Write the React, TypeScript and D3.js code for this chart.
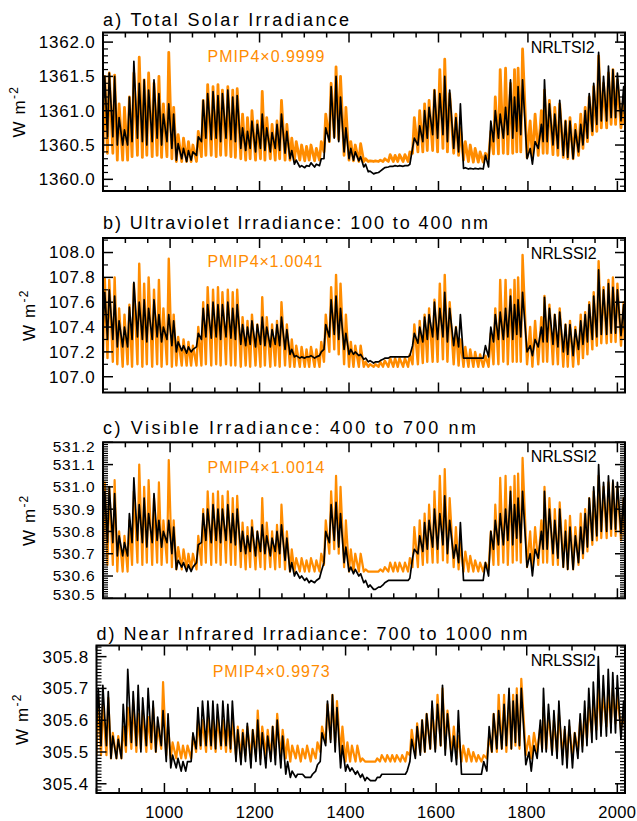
import React from "react";
import * as d3 from "d3";

const FONT = "'Liberation Sans', Arial, Helvetica, sans-serif";
const ORANGE = "#ff8c00";

// Solar-cycle minimum years (last entry = end of record) and maximum years
const cycleMinYears = [
  850, 860, 872, 882, 894, 905, 915, 927, 938, 948,
  960, 971, 981, 993, 1004, 1014, 1026, 1037, 1047, 1059,
  1070, 1080, 1092, 1103, 1113, 1125, 1136, 1146, 1158, 1169,
  1179, 1191, 1202, 1212, 1224, 1235, 1245, 1257, 1268, 1278,
  1290, 1301, 1311, 1323, 1334, 1344, 1356, 1367, 1377, 1389,
  1400, 1410, 1422, 1433, 1443, 1455, 1466, 1476, 1488, 1499,
  1509, 1521, 1532, 1542, 1554, 1565, 1575, 1587, 1598, 1610,
  1620, 1634, 1645, 1656, 1667, 1678, 1689, 1700, 1712, 1723,
  1734, 1745, 1755, 1766, 1775, 1784, 1798, 1810, 1823, 1834,
  1843, 1856, 1867, 1879, 1889, 1901, 1913, 1923, 1933, 1944,
  1954, 1964, 1976, 1986, 1996, 2008, 2016,
];
const cycleMaxYears = [
  854, 864, 876, 886, 898, 909, 919, 931, 942, 952,
  964, 975, 985, 997, 1008, 1018, 1030, 1041, 1051, 1063,
  1074, 1084, 1096, 1107, 1117, 1129, 1140, 1150, 1162, 1173,
  1183, 1195, 1206, 1216, 1228, 1239, 1249, 1261, 1272, 1282,
  1294, 1305, 1315, 1327, 1338, 1348, 1360, 1371, 1381, 1393,
  1404, 1414, 1426, 1437, 1447, 1459, 1470, 1480, 1492, 1503,
  1513, 1525, 1536, 1546, 1558, 1569, 1579, 1591, 1603, 1614,
  1625, 1639, 1649, 1660, 1671, 1682, 1693, 1705, 1717, 1727,
  1738, 1750, 1761, 1770, 1778, 1788, 1805, 1816, 1830, 1837,
  1848, 1860, 1871, 1884, 1894, 1906, 1918, 1928, 1937, 1947,
  1958, 1969, 1980, 1990, 2000, 2014,
];

// ---------- a) TSI ----------
const tsiPmipPeaks = [
  1361.50, 1361.55, 1361.52, 1361.10, 1361.05, 1361.20, 1361.55, 1361.78, 1361.45, 1361.55,
  1361.40, 1361.50, 1361.10, 1361.85, 1361.05, 1360.65, 1360.60, 1360.55, 1360.50, 1360.70,
  1361.15, 1361.38, 1361.35, 1361.38, 1361.30, 1361.35, 1361.30, 1361.32, 1360.95, 1360.90,
  1361.00, 1360.85, 1361.28, 1360.90, 1360.80, 1360.85, 1361.15, 1360.80, 1360.60, 1360.55,
  1360.50, 1360.48, 1360.50, 1360.45, 1360.55, 1360.95, 1361.40, 1361.64, 1361.50, 1361.05,
  1360.55, 1360.50, 1360.52, 1360.30, 1360.27, 1360.27, 1360.28, 1360.30, 1360.36, 1360.35,
  1360.36, 1360.36, 1360.40, 1360.90, 1361.00, 1361.10, 1361.15, 1361.30, 1361.60, 1361.75,
  1361.25, 1360.95, 1360.75, 1360.55, 1360.50, 1360.45, 1360.40, 1360.38, 1360.70, 1361.20,
  1361.60, 1361.62, 1361.40, 1361.60, 1361.62, 1361.90, 1360.85, 1360.95, 1361.00, 1361.30,
  1361.15, 1361.05, 1361.10, 1360.85, 1360.90, 1360.80, 1360.95, 1361.05, 1361.20, 1361.35,
  1361.80, 1361.40, 1361.55, 1361.60, 1361.45, 1361.20,
];
const tsiPmipTroughs = [
  1360.38, 1360.38, 1360.38, 1360.28, 1360.28, 1360.28, 1360.33, 1360.35, 1360.32, 1360.35,
  1360.33, 1360.35, 1360.32, 1360.33, 1360.30, 1360.26, 1360.26, 1360.26, 1360.26, 1360.26,
  1360.33, 1360.35, 1360.35, 1360.33, 1360.35, 1360.35, 1360.33, 1360.32, 1360.30, 1360.28,
  1360.30, 1360.28, 1360.30, 1360.28, 1360.30, 1360.28, 1360.30, 1360.28, 1360.28, 1360.27,
  1360.28, 1360.27, 1360.28, 1360.27, 1360.28, 1360.40, 1360.55, 1360.62, 1360.58, 1360.35,
  1360.28, 1360.27, 1360.26, 1360.26, 1360.26, 1360.26, 1360.26, 1360.26, 1360.26, 1360.26,
  1360.26, 1360.26, 1360.26, 1360.38, 1360.40, 1360.40, 1360.42, 1360.42, 1360.40, 1360.45,
  1360.40, 1360.38, 1360.35, 1360.28, 1360.26, 1360.25, 1360.25, 1360.25, 1360.30, 1360.37,
  1360.37, 1360.38, 1360.37, 1360.38, 1360.40, 1360.40, 1360.32, 1360.30, 1360.35, 1360.38,
  1360.38, 1360.36, 1360.35, 1360.32, 1360.30, 1360.30, 1360.35, 1360.45, 1360.55, 1360.65,
  1360.70, 1360.75, 1360.75, 1360.80, 1360.80, 1360.75, 1360.80,
];
const tsiNrlPeaks = [
  1361.50, 1361.55, 1361.50, 1360.90, 1360.72, 1361.20, 1361.72, 1361.40, 1361.45, 1361.30,
  1361.45, 1361.25, 1360.95, 1361.10, 1360.95, 1360.52, 1360.45, 1360.42, 1360.40, 1360.62,
  1361.15, 1361.25, 1361.28, 1361.22, 1361.25, 1361.30, 1361.20, 1361.22, 1360.75, 1360.70,
  1360.85, 1360.80, 1360.95, 1360.75, 1360.68, 1360.80, 1360.95, 1360.70, 1360.42, 1360.28,
  1360.20, 1360.20, 1360.24, 1360.22, 1360.30, 1360.75, 1361.35, 1361.50, 1361.20, 1360.75,
  1360.45, 1360.40, 1360.33, 1360.22, 1360.12, 1360.09, 1360.12, 1360.17, 1360.19, 1360.20,
  1360.20, 1360.20, 1360.22, 1360.60, 1360.78, 1361.00, 1361.05, 1361.30, 1361.25, 1361.50,
  1361.30, 1360.90, 1361.10, 1360.17, 1360.16, 1360.16, 1360.16, 1360.35, 1360.85, 1361.00,
  1360.95, 1361.05, 1361.45, 1361.20, 1361.35, 1361.45, 1360.45, 1360.55, 1360.80, 1361.45,
  1361.10, 1360.95, 1361.15, 1360.85, 1360.85, 1360.72, 1360.80, 1361.00, 1361.25, 1361.40,
  1361.85, 1361.50, 1361.65, 1361.60, 1361.55, 1361.35,
];
const tsiNrlTroughs = [
  1360.93, 1360.62, 1360.62, 1360.50, 1360.50, 1360.50, 1360.55, 1360.60, 1360.55, 1360.50,
  1360.55, 1360.60, 1360.50, 1360.55, 1360.45, 1360.28, 1360.30, 1360.26, 1360.28, 1360.35,
  1360.55, 1360.60, 1360.58, 1360.60, 1360.55, 1360.60, 1360.58, 1360.55, 1360.45, 1360.42,
  1360.45, 1360.40, 1360.45, 1360.42, 1360.40, 1360.45, 1360.42, 1360.38, 1360.30, 1360.22,
  1360.18, 1360.17, 1360.19, 1360.18, 1360.20, 1360.30, 1360.55, 1360.60, 1360.55, 1360.40,
  1360.30, 1360.28, 1360.27, 1360.18, 1360.11, 1360.08, 1360.10, 1360.15, 1360.18, 1360.19,
  1360.19, 1360.19, 1360.20, 1360.45, 1360.50, 1360.55, 1360.60, 1360.65, 1360.60, 1360.65,
  1360.55, 1360.45, 1360.40, 1360.16, 1360.15, 1360.15, 1360.15, 1360.15, 1360.18, 1360.55,
  1360.60, 1360.60, 1360.65, 1360.60, 1360.70, 1360.65, 1360.30, 1360.22, 1360.45, 1360.55,
  1360.55, 1360.50, 1360.45, 1360.35, 1360.32, 1360.30, 1360.40, 1360.50, 1360.60, 1360.70,
  1360.80, 1360.85, 1360.85, 1360.90, 1360.90, 1360.85, 1360.95,
];

// ---------- b) UV ----------
const uvPmipPeaks = [
  107.79, 107.78, 107.80, 107.55, 107.50, 107.58, 107.75, 107.91, 107.75, 107.80,
  107.70, 107.78, 107.55, 107.95, 107.50, 107.32, 107.30, 107.28, 107.25, 107.40,
  107.60, 107.72, 107.70, 107.72, 107.68, 107.70, 107.68, 107.70, 107.48, 107.45,
  107.50, 107.42, 107.64, 107.48, 107.42, 107.45, 107.60, 107.42, 107.30, 107.25,
  107.24, 107.22, 107.24, 107.22, 107.28, 107.50, 107.72, 107.82, 107.75, 107.50,
  107.28, 107.25, 107.25, 107.12, 107.10, 107.10, 107.12, 107.13, 107.15, 107.15,
  107.15, 107.15, 107.18, 107.42, 107.45, 107.50, 107.55, 107.62, 107.75, 107.82,
  107.60, 107.40, 107.30, 107.24, 107.22, 107.20, 107.18, 107.17, 107.35, 107.55,
  107.78, 107.78, 107.70, 107.78, 107.80, 107.98, 107.40, 107.45, 107.48, 107.65,
  107.58, 107.50, 107.55, 107.42, 107.45, 107.40, 107.50, 107.52, 107.60, 107.68,
  107.93, 107.72, 107.78, 107.80, 107.75, 107.60,
];
const uvPmipTroughs = [
  107.15, 107.15, 107.12, 107.10, 107.08, 107.10, 107.08, 107.10, 107.08, 107.10,
  107.08, 107.10, 107.08, 107.10, 107.08, 107.09, 107.09, 107.09, 107.09, 107.09,
  107.09, 107.10, 107.09, 107.10, 107.09, 107.10, 107.09, 107.09, 107.08, 107.09,
  107.08, 107.09, 107.08, 107.09, 107.08, 107.09, 107.08, 107.09, 107.08, 107.08,
  107.08, 107.08, 107.08, 107.08, 107.08, 107.12, 107.20, 107.22, 107.18, 107.10,
  107.08, 107.08, 107.08, 107.08, 107.08, 107.08, 107.08, 107.08, 107.08, 107.08,
  107.08, 107.08, 107.08, 107.10, 107.10, 107.11, 107.12, 107.12, 107.12, 107.14,
  107.12, 107.10, 107.09, 107.08, 107.08, 107.08, 107.08, 107.08, 107.08, 107.10,
  107.10, 107.12, 107.10, 107.12, 107.12, 107.12, 107.10, 107.08, 107.10, 107.12,
  107.12, 107.10, 107.10, 107.08, 107.08, 107.08, 107.10, 107.15, 107.18, 107.22,
  107.25, 107.27, 107.27, 107.28, 107.28, 107.25, 107.30,
];
const uvNrlPeaks = [
  107.68, 107.70, 107.65, 107.45, 107.40, 107.56, 107.76, 107.60, 107.62, 107.55,
  107.62, 107.50, 107.40, 107.50, 107.45, 107.28, 107.25, 107.24, 107.22, 107.35,
  107.55, 107.58, 107.60, 107.58, 107.58, 107.60, 107.55, 107.58, 107.42, 107.40,
  107.45, 107.42, 107.48, 107.40, 107.38, 107.42, 107.48, 107.38, 107.22, 107.17,
  107.16, 107.16, 107.17, 107.16, 107.20, 107.42, 107.62, 107.65, 107.55, 107.35,
  107.22, 107.20, 107.18, 107.15, 107.13, 107.12, 107.13, 107.15, 107.16, 107.16,
  107.16, 107.16, 107.17, 107.35, 107.40, 107.48, 107.50, 107.60, 107.55, 107.68,
  107.55, 107.40, 107.50, 107.15, 107.15, 107.15, 107.15, 107.25, 107.40, 107.50,
  107.52, 107.55, 107.65, 107.58, 107.62, 107.68, 107.25, 107.30, 107.40, 107.64,
  107.55, 107.50, 107.52, 107.42, 107.42, 107.38, 107.45, 107.50, 107.58, 107.65,
  107.86, 107.70, 107.75, 107.72, 107.70, 107.58,
];
const uvNrlTroughs = [
  107.40, 107.30, 107.30, 107.24, 107.24, 107.24, 107.30, 107.32, 107.30, 107.28,
  107.30, 107.32, 107.28, 107.30, 107.25, 107.20, 107.21, 107.19, 107.20, 107.24,
  107.30, 107.32, 107.31, 107.32, 107.30, 107.32, 107.31, 107.30, 107.26, 107.25,
  107.26, 107.24, 107.26, 107.25, 107.24, 107.26, 107.25, 107.22, 107.18, 107.16,
  107.15, 107.15, 107.16, 107.15, 107.17, 107.22, 107.32, 107.34, 107.30, 107.22,
  107.18, 107.18, 107.17, 107.14, 107.12, 107.11, 107.12, 107.14, 107.15, 107.16,
  107.16, 107.16, 107.16, 107.25, 107.27, 107.28, 107.30, 107.32, 107.30, 107.32,
  107.28, 107.25, 107.24, 107.15, 107.15, 107.15, 107.15, 107.15, 107.16, 107.28,
  107.30, 107.30, 107.32, 107.30, 107.34, 107.32, 107.20, 107.17, 107.24, 107.28,
  107.28, 107.26, 107.24, 107.20, 107.18, 107.17, 107.22, 107.26, 107.28, 107.30,
  107.32, 107.34, 107.34, 107.35, 107.35, 107.33, 107.38,
];

// ---------- c) Visible ----------
const visPmipPeaks = [
  531.02, 531.00, 531.03, 530.80, 530.78, 530.85, 530.98, 531.10, 531.00, 531.03,
  530.95, 531.02, 530.85, 531.12, 530.85, 530.73, 530.72, 530.70, 530.70, 530.78,
  530.90, 530.98, 530.97, 530.98, 530.96, 530.98, 530.95, 530.96, 530.84, 530.82,
  530.85, 530.80, 530.95, 530.84, 530.80, 530.83, 530.92, 530.80, 530.72, 530.68,
  530.68, 530.67, 530.68, 530.67, 530.70, 530.85, 530.98, 531.05, 531.00, 530.85,
  530.72, 530.70, 530.70, 530.63, 530.62, 530.62, 530.63, 530.64, 530.66, 530.66,
  530.66, 530.66, 530.68, 530.82, 530.85, 530.88, 530.92, 530.98, 531.05, 531.08,
  530.95, 530.82, 530.75, 530.71, 530.69, 530.67, 530.66, 530.66, 530.80, 530.92,
  531.04, 531.05, 531.00, 531.05, 531.06, 531.13, 530.80, 530.82, 530.85, 531.00,
  530.95, 530.90, 530.93, 530.85, 530.87, 530.82, 530.88, 530.90, 530.95, 530.98,
  531.05, 531.00, 531.02, 531.02, 531.00, 530.95,
];
const visPmipTroughs = [
  530.65, 530.65, 530.65, 530.62, 530.62, 530.62, 530.65, 530.66, 530.65, 530.66,
  530.65, 530.66, 530.65, 530.66, 530.64, 530.63, 530.63, 530.63, 530.63, 530.63,
  530.65, 530.66, 530.65, 530.66, 530.65, 530.66, 530.65, 530.65, 530.64, 530.63,
  530.64, 530.63, 530.64, 530.63, 530.64, 530.63, 530.64, 530.63, 530.62, 530.62,
  530.62, 530.62, 530.62, 530.62, 530.62, 530.65, 530.70, 530.72, 530.70, 530.64,
  530.62, 530.62, 530.62, 530.62, 530.62, 530.62, 530.62, 530.62, 530.62, 530.62,
  530.62, 530.62, 530.62, 530.64, 530.64, 530.65, 530.66, 530.66, 530.66, 530.67,
  530.66, 530.64, 530.63, 530.62, 530.62, 530.62, 530.62, 530.62, 530.63, 530.65,
  530.65, 530.66, 530.65, 530.66, 530.67, 530.66, 530.64, 530.63, 530.65, 530.66,
  530.66, 530.65, 530.65, 530.64, 530.63, 530.63, 530.65, 530.68, 530.71, 530.74,
  530.76, 530.77, 530.77, 530.78, 530.78, 530.76, 530.78,
];
const visNrlPeaks = [
  530.98, 531.00, 530.97, 530.78, 530.75, 530.88, 531.04, 530.92, 530.95, 530.88,
  530.97, 530.85, 530.80, 530.85, 530.82, 530.67, 530.66, 530.65, 530.64, 530.74,
  530.88, 530.90, 530.92, 530.90, 530.90, 530.92, 530.88, 530.90, 530.80, 530.78,
  530.82, 530.80, 530.83, 530.78, 530.77, 530.80, 530.83, 530.77, 530.66, 530.62,
  530.60, 530.59, 530.58, 530.58, 530.62, 530.80, 530.92, 530.93, 530.88, 530.73,
  530.64, 530.63, 530.61, 530.58, 530.56, 530.54, 530.55, 530.57, 530.58, 530.58,
  530.58, 530.58, 530.59, 530.72, 530.78, 530.84, 530.85, 530.90, 530.88, 530.96,
  530.85, 530.74, 530.84, 530.58, 530.58, 530.58, 530.58, 530.66, 530.80, 530.85,
  530.88, 530.90, 530.98, 530.92, 530.95, 530.98, 530.70, 530.72, 530.80, 530.98,
  530.90, 530.85, 530.90, 530.80, 530.82, 530.78, 530.82, 530.88, 530.95, 531.00,
  531.10, 531.02, 531.05, 531.03, 531.02, 530.95,
];
const visNrlTroughs = [
  530.82, 530.75, 530.75, 530.69, 530.69, 530.69, 530.75, 530.76, 530.75, 530.73,
  530.75, 530.76, 530.73, 530.75, 530.70, 530.63, 530.64, 530.62, 530.62, 530.66,
  530.75, 530.76, 530.75, 530.76, 530.75, 530.76, 530.75, 530.74, 530.71, 530.70,
  530.71, 530.69, 530.71, 530.70, 530.69, 530.71, 530.70, 530.67, 530.62, 530.60,
  530.59, 530.58, 530.57, 530.57, 530.59, 530.66, 530.75, 530.76, 530.73, 530.66,
  530.62, 530.61, 530.60, 530.57, 530.55, 530.54, 530.55, 530.56, 530.58, 530.58,
  530.58, 530.58, 530.58, 530.68, 530.70, 530.71, 530.72, 530.73, 530.72, 530.74,
  530.70, 530.68, 530.66, 530.58, 530.58, 530.58, 530.58, 530.58, 530.60, 530.72,
  530.74, 530.74, 530.76, 530.74, 530.77, 530.75, 530.64, 530.60, 530.68, 530.72,
  530.72, 530.70, 530.68, 530.64, 530.63, 530.63, 530.66, 530.70, 530.73, 530.76,
  530.78, 530.80, 530.80, 530.81, 530.81, 530.79, 530.82,
];

// ---------- d) Near infrared ----------
const nirPmipPeaks = [
  305.67, 305.65, 305.67, 305.56, 305.55, 305.58, 305.64, 305.66, 305.62, 305.63,
  305.61, 305.64, 305.58, 305.72, 305.58, 305.53, 305.53, 305.52, 305.52, 305.55,
  305.60, 305.60, 305.61, 305.60, 305.61, 305.60, 305.60, 305.60, 305.58, 305.57,
  305.58, 305.57, 305.63, 305.58, 305.57, 305.58, 305.62, 305.57, 305.54, 305.52,
  305.52, 305.51, 305.52, 305.51, 305.53, 305.58, 305.65, 305.68, 305.66, 305.58,
  305.53, 305.52, 305.52, 305.48, 305.47, 305.47, 305.48, 305.49, 305.49, 305.49,
  305.49, 305.49, 305.50, 305.57, 305.59, 305.60, 305.62, 305.64, 305.68, 305.70,
  305.63, 305.58, 305.55, 305.52, 305.51, 305.50, 305.49, 305.49, 305.55, 305.62,
  305.68, 305.68, 305.66, 305.68, 305.70, 305.73, 305.55, 305.56, 305.58, 305.64,
  305.62, 305.60, 305.62, 305.57, 305.58, 305.56, 305.60, 305.62, 305.64, 305.66,
  305.70, 305.68, 305.69, 305.70, 305.68, 305.62,
];
const nirPmipTroughs = [
  305.49, 305.49, 305.49, 305.48, 305.48, 305.48, 305.50, 305.51, 305.50, 305.51,
  305.50, 305.51, 305.50, 305.51, 305.49, 305.48, 305.48, 305.48, 305.48, 305.48,
  305.50, 305.51, 305.50, 305.51, 305.50, 305.51, 305.50, 305.50, 305.49, 305.48,
  305.49, 305.48, 305.49, 305.48, 305.49, 305.48, 305.49, 305.48, 305.48, 305.47,
  305.48, 305.47, 305.48, 305.47, 305.48, 305.50, 305.53, 305.54, 305.53, 305.49,
  305.47, 305.47, 305.47, 305.47, 305.47, 305.47, 305.47, 305.47, 305.47, 305.47,
  305.47, 305.47, 305.47, 305.49, 305.49, 305.50, 305.50, 305.51, 305.51, 305.52,
  305.51, 305.49, 305.48, 305.47, 305.47, 305.47, 305.47, 305.47, 305.48, 305.50,
  305.50, 305.51, 305.50, 305.51, 305.52, 305.51, 305.49, 305.48, 305.50, 305.51,
  305.51, 305.50, 305.50, 305.49, 305.48, 305.48, 305.50, 305.52, 305.54, 305.56,
  305.57, 305.58, 305.58, 305.59, 305.59, 305.57, 305.59,
];
const nirNrlPeaks = [
  305.70, 305.71, 305.69, 305.55, 305.54, 305.65, 305.76, 305.69, 305.71, 305.67,
  305.70, 305.66, 305.61, 305.63, 305.62, 305.49, 305.48, 305.47, 305.47, 305.56,
  305.64, 305.66, 305.66, 305.66, 305.65, 305.66, 305.65, 305.66, 305.57, 305.56,
  305.59, 305.57, 305.60, 305.56, 305.55, 305.58, 305.60, 305.55, 305.47, 305.44,
  305.43, 305.43, 305.42, 305.43, 305.46, 305.56, 305.66, 305.68, 305.64, 305.52,
  305.46, 305.45, 305.44, 305.43, 305.42, 305.41, 305.42, 305.43, 305.43, 305.43,
  305.43, 305.43, 305.44, 305.54, 305.58, 305.60, 305.62, 305.66, 305.65, 305.71,
  305.62, 305.55, 305.63, 305.43, 305.43, 305.43, 305.43, 305.47, 305.58, 305.62,
  305.63, 305.65, 305.70, 305.66, 305.68, 305.70, 305.50, 305.52, 305.60, 305.70,
  305.65, 305.63, 305.66, 305.58, 305.60, 305.56, 305.62, 305.66, 305.70, 305.72,
  305.80, 305.74, 305.76, 305.75, 305.74, 305.66,
];
const nirNrlTroughs = [
  305.58, 305.52, 305.52, 305.48, 305.48, 305.48, 305.52, 305.53, 305.52, 305.50,
  305.52, 305.53, 305.50, 305.52, 305.47, 305.45, 305.45, 305.44, 305.44, 305.47,
  305.51, 305.52, 305.52, 305.52, 305.51, 305.52, 305.52, 305.51, 305.47, 305.46,
  305.47, 305.45, 305.47, 305.46, 305.45, 305.47, 305.46, 305.45, 305.43, 305.42,
  305.42, 305.43, 305.42, 305.42, 305.44, 305.47, 305.52, 305.53, 305.50, 305.45,
  305.44, 305.44, 305.43, 305.42, 305.41, 305.41, 305.41, 305.42, 305.43, 305.43,
  305.43, 305.43, 305.43, 305.47, 305.48, 305.49, 305.50, 305.51, 305.50, 305.52,
  305.49, 305.47, 305.46, 305.43, 305.43, 305.43, 305.43, 305.43, 305.44, 305.50,
  305.51, 305.51, 305.52, 305.51, 305.53, 305.52, 305.46, 305.44, 305.48, 305.50,
  305.50, 305.49, 305.48, 305.46, 305.45, 305.45, 305.48, 305.50, 305.52, 305.53,
  305.54, 305.55, 305.55, 305.56, 305.56, 305.54, 305.57,
];

// Tick labels
const yearTicks = [1000, 1200, 1400, 1600, 1800, 2000];
const tsiTicks = [1360.0, 1360.5, 1361.0, 1361.5, 1362.0];
const uvTicks = [107.0, 107.2, 107.4, 107.6, 107.8, 108.0];
const visTicks = [530.5, 530.6, 530.7, 530.8, 530.9, 531.0, 531.1, 531.2];
const nirTicks = [305.4, 305.5, 305.6, 305.7, 305.8];

const X_DOMAIN = [850, 2017];
const RIGHT = 625;

function buildSeries(troughs: number[], peaks: number[]): [number, number][] {
  const pts: [number, number][] = [];
  const n = Math.min(peaks.length, troughs.length - 1, cycleMaxYears.length);
  for (let i = 0; i < n; i++) {
    pts.push([cycleMinYears[i], troughs[i]]);
    pts.push([cycleMaxYears[i], peaks[i]]);
  }
  pts.push([cycleMinYears[n], troughs[n]]);
  return pts;
}

const panels = [
  {
    id: "a", title: "a) Total Solar Irradiance", titleLen: 246, titleY: 25.5,
    left: 103, top: 32.5, bottom: 191, domain: [1359.83, 1362.14],
    ticks: tsiTicks, minorStep: 0.1, ylabX: 25, labelSize: 17, clampPad: 5.5, orangeW: 2.8,
    pmip: "PMIP4×0.9999", pmipX: 207.5, pmipY: 61.5, pmipLen: 117,
    nrl: "NRLTSI2", nrlY: 53.3, nrlLen: 64,
    pmipData: buildSeries(tsiPmipTroughs, tsiPmipPeaks), nrlData: buildSeries(tsiNrlTroughs, tsiNrlPeaks),
  },
  {
    id: "b", title: "b) Ultraviolet Irradiance: 100 to 400 nm", titleLen: 385, titleY: 228.5,
    left: 103, top: 238, bottom: 392.5, domain: [106.873, 108.117],
    ticks: uvTicks, minorStep: 0.1, ylabX: 35, labelSize: 17, clampPad: 5.5, orangeW: 2.4,
    pmip: "PMIP4×1.0041", pmipX: 207.5, pmipY: 266.7, pmipLen: 115,
    nrl: "NRLSSI2", nrlY: 259, nrlLen: 66,
    pmipData: buildSeries(uvPmipTroughs, uvPmipPeaks), nrlData: buildSeries(uvNrlTroughs, uvNrlPeaks),
  },
  {
    id: "c", title: "c) Visible Irradiance: 400 to 700 nm", titleLen: 373, titleY: 433.5,
    left: 103, top: 442.3, bottom: 598.3, domain: [530.5, 531.2],
    ticks: visTicks, minorStep: 0.01, ylabX: 35, labelSize: 15.5, clampPad: 4, orangeW: 2.2,
    pmip: "PMIP4×1.0014", pmipX: 207.5, pmipY: 473.3, pmipLen: 117,
    nrl: "NRLSSI2", nrlY: 462.3, nrlLen: 66,
    pmipData: buildSeries(visPmipTroughs, visPmipPeaks), nrlData: buildSeries(visNrlTroughs, visNrlPeaks),
  },
  {
    id: "d", title: "d) Near Infrared Irradiance: 700 to 1000 nm", titleLen: 431, titleY: 639.5,
    left: 96.5, top: 645.5, bottom: 793, domain: [305.371, 305.835],
    ticks: nirTicks, minorStep: 0.01, ylabX: 28, labelSize: 17, clampPad: 5.5, orangeW: 2.2,
    pmip: "PMIP4×0.9973", pmipX: 212.7, pmipY: 677.3, pmipLen: 117,
    nrl: "NRLSSI2", nrlY: 665.7, nrlLen: 65,
    pmipData: buildSeries(nirPmipTroughs, nirPmipPeaks), nrlData: buildSeries(nirNrlTroughs, nirNrlPeaks),
    xLabels: true,
  },
];

function Panel({ p }: { p: any }) {
  const x = d3.scaleLinear().domain(X_DOMAIN).range([p.left, RIGHT]);
  const y = d3.scaleLinear().domain(p.domain).range([p.bottom, p.top]);
  const line = d3.line<[number, number]>().x((d) => x(d[0])).y((d) => y(d[1]));
  const fmt = d3.format(".1f");

  const xMinor = d3.range(850, 2018, 50).filter((v) => !yearTicks.includes(v));
  const kLo = Math.ceil(p.domain[0] / p.minorStep - 1e-6);
  const kHi = Math.floor(p.domain[1] / p.minorStep + 1e-6);
  const yMinor: number[] = [];
  for (let k = kLo; k <= kHi; k++) {
    const v = k * p.minorStep;
    if (!p.ticks.some((t: number) => Math.abs(t - v) < p.minorStep / 4)) yMinor.push(v);
  }
  const MAJ = 10, MIN = 5;
  const clipId = `clip-${p.id}`;
  return (
    <g>
      <defs>
        <clipPath id={clipId}>
          <rect x={p.left} y={p.top} width={RIGHT - p.left} height={p.bottom - p.top} />
        </clipPath>
      </defs>
      <text x={p.left} y={p.titleY} fontSize={18} textLength={p.titleLen} lengthAdjust="spacing" fill="#000">
        {p.title}
      </text>
      <g clipPath={`url(#${clipId})`}>
        <path d={line(p.pmipData) || ""} fill="none" stroke={ORANGE} strokeWidth={p.orangeW} strokeLinejoin="round" />
        <path d={line(p.nrlData) || ""} fill="none" stroke="#000" strokeWidth={1.7} strokeLinejoin="round" />
      </g>
      {/* x ticks (top & bottom, inward) */}
      {yearTicks.map((t) => (
        <g key={`xt${t}`} stroke="#000" strokeWidth={1.5}>
          <line x1={x(t)} x2={x(t)} y1={p.bottom} y2={p.bottom - MAJ} />
          <line x1={x(t)} x2={x(t)} y1={p.top} y2={p.top + MAJ} />
        </g>
      ))}
      {xMinor.map((t) => (
        <g key={`xm${t}`} stroke="#000" strokeWidth={1.5}>
          <line x1={x(t)} x2={x(t)} y1={p.bottom} y2={p.bottom - MIN} />
          <line x1={x(t)} x2={x(t)} y1={p.top} y2={p.top + MIN} />
        </g>
      ))}
      {/* y ticks (left & right, inward) */}
      {p.ticks.map((t: number) => (
        <g key={`yt${t}`} stroke="#000" strokeWidth={1.5}>
          <line x1={p.left} x2={p.left + MAJ} y1={y(t)} y2={y(t)} />
          <line x1={RIGHT} x2={RIGHT - MAJ} y1={y(t)} y2={y(t)} />
        </g>
      ))}
      {yMinor.map((t, i) => (
        <g key={`ym${i}`} stroke="#000" strokeWidth={1.2}>
          <line x1={p.left} x2={p.left + MIN} y1={y(t)} y2={y(t)} />
          <line x1={RIGHT} x2={RIGHT - MIN} y1={y(t)} y2={y(t)} />
        </g>
      ))}
      <rect x={p.left} y={p.top} width={RIGHT - p.left} height={p.bottom - p.top} fill="none" stroke="#000" strokeWidth={2} />
      {/* y tick labels */}
      {p.ticks.map((t: number) => {
        const ty = Math.max(p.top + p.clampPad, Math.min(p.bottom - p.clampPad, y(t)));
        return (
          <text key={`yl${t}`} x={p.left - 7.5} y={ty + p.labelSize * 0.35} fontSize={p.labelSize} textAnchor="end" letterSpacing={0.8} fill="#000">
            {fmt(t)}
          </text>
        );
      })}
      {/* y axis title */}
      <text transform={`translate(${p.ylabX},${(p.top + p.bottom) / 2}) rotate(-90)`} textAnchor="middle" fontSize={17} letterSpacing={1.2} fill="#000">
        W m<tspan dy={-7} fontSize={12}>-2</tspan>
      </text>
      {/* annotations */}
      <text x={p.pmipX} y={p.pmipY} fontSize={16} fill={ORANGE} textLength={p.pmipLen} lengthAdjust="spacing">
        {p.pmip}
      </text>
      <text x={530.7} y={p.nrlY} fontSize={16} fill="#000" textLength={p.nrlLen} lengthAdjust="spacing">
        {p.nrl}
      </text>
      {p.xLabels &&
        yearTicks.map((t) => (
          <text key={`xl${t}`} x={x(t)} y={818.3} fontSize={16.5} textAnchor="middle" letterSpacing={0.4} fill="#000">
            {t}
          </text>
        ))}
    </g>
  );
}

export default function App() {
  return (
    <svg
      width={637}
      height={821}
      viewBox="0 0 637 821"
      style={{ position: "absolute", left: 0, top: 0, background: "#fff" }}
      fontFamily={FONT}
    >
      <rect x={0} y={0} width={637} height={821} fill="#fff" />
      {panels.map((p) => (
        <Panel key={p.id} p={p} />
      ))}
    </svg>
  );
}
